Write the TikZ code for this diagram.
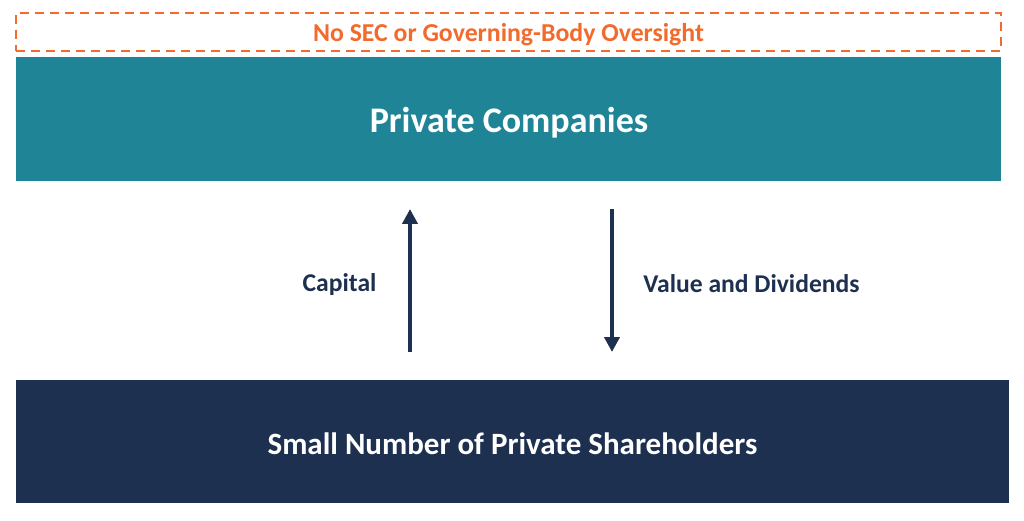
\documentclass[tikz,border=0pt]{standalone}
\usepackage{fontspec}
\setmainfont{Carlito}
\usetikzlibrary{arrows.meta}
\definecolor{teal}{HTML}{1F8496}
\definecolor{navy}{HTML}{1E3050}
\definecolor{orng}{HTML}{F26A2C}
\tikzset{
  bar/.style={inner sep=0pt, outer sep=0pt, text=white, font=\bfseries},
  flow/.style={draw=navy, line width=4pt, -{Triangle[width=15pt,length=15pt]}},
  lbl/.style={text=navy, font=\bfseries\fontsize{25.6}{28}\selectfont, inner sep=0pt}
}
\begin{document}
\begin{tikzpicture}[x=1pt,y=-1pt]
\useasboundingbox[fill=white] (0,0) rectangle (1024,521);
\node[draw=orng, dashed, dash pattern=on 9pt off 6pt, line width=1.5pt, minimum width=985pt, minimum height=38pt, inner sep=0pt] (ov) at (508.5,32) {};
\node[text=orng, inner sep=0pt, font=\bfseries\fontsize{25.8}{28}\selectfont] (ovt) at (508.5,35) {No SEC or Governing-Body Oversight};
\node[bar, fill=teal, minimum width=985pt, minimum height=124pt] (pc) at (508.5,119) {};
\node[inner sep=0pt, text=white, font=\bfseries\fontsize{36}{40}\selectfont] (pct) at (509,123) {Private Companies};
\node[bar, fill=navy, minimum width=993pt, minimum height=123pt] (sh) at (512.5,441.5) {};
\node[inner sep=0pt, text=white, font=\bfseries\fontsize{31}{36}\selectfont] (sht) at (512.5,444) {Small Number of Private Shareholders};
\coordinate (a1s) at (410,352);
\coordinate (a1e) at (410,209);
\coordinate (a2s) at (612,209);
\coordinate (a2e) at (612,352);
\draw[flow] (a1s) -- (a1e);
\draw[flow] (a2s) -- (a2e);
\node[lbl] (cap) at (339.5,285) {Capital};
\node[lbl] (val) at (751.5,284) {Value and Dividends};
\end{tikzpicture}
\end{document}
